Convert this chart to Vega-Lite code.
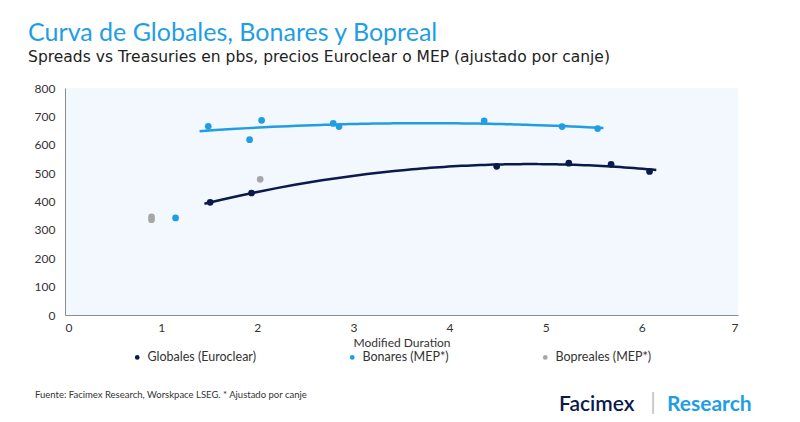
{
  "$schema": "https://vega.github.io/schema/vega-lite/v6.json",
  "background": "white",
  "padding": {"left": 28, "top": 20, "right": 0, "bottom": 0},
  "config": {
    "font": "Lato",
    "view": {"stroke": null},
    "axis": {
      "labelFont": "Lato",
      "labelFontSize": 12,
      "labelColor": "#333333",
      "ticks": false,
      "grid": false,
      "domainColor": "#8c8c8c",
      "titleFont": "Lato",
      "titleFontWeight": "normal",
      "titleFontSize": 12,
      "titleColor": "#333333"
    },
    "legend": {
      "labelFont": "Lato",
      "labelFontSize": 12.5,
      "labelColor": "#333333"
    }
  },
  "title": {
    "text": "Curva de Globales, Bonares y Bopreal",
    "subtitle": "Spreads vs Treasuries en pbs, precios Euroclear o MEP (ajustado por canje)",
    "anchor": "start",
    "dx": -6,
    "font": "Lato",
    "fontSize": 25,
    "fontWeight": "normal",
    "color": "#1f9ee5",
    "subtitleFont": "DejaVu Sans",
    "subtitleFontSize": 15.5,
    "subtitleColor": "#222222",
    "subtitlePadding": 4,
    "offset": 17
  },
  "spacing": 42,
  "vconcat": [
    {
      "width": 673,
      "height": 227,
      "view": {"fill": "#f2f8fd", "stroke": null},
      "data": {
        "values": [
          {"series": "Globales (Euroclear)", "md": 1.51, "spread": 397},
          {"series": "Globales (Euroclear)", "md": 1.94, "spread": 430},
          {"series": "Globales (Euroclear)", "md": 4.49, "spread": 524},
          {"series": "Globales (Euroclear)", "md": 5.24, "spread": 535},
          {"series": "Globales (Euroclear)", "md": 5.68, "spread": 531},
          {"series": "Globales (Euroclear)", "md": 6.08, "spread": 506},
          {"series": "Bonares (MEP*)", "md": 1.15, "spread": 342},
          {"series": "Bonares (MEP*)", "md": 1.49, "spread": 665},
          {"series": "Bonares (MEP*)", "md": 1.92, "spread": 618},
          {"series": "Bonares (MEP*)", "md": 2.045, "spread": 686},
          {"series": "Bonares (MEP*)", "md": 2.79, "spread": 675},
          {"series": "Bonares (MEP*)", "md": 2.85, "spread": 664},
          {"series": "Bonares (MEP*)", "md": 4.36, "spread": 684},
          {"series": "Bonares (MEP*)", "md": 5.17, "spread": 664},
          {"series": "Bonares (MEP*)", "md": 5.54, "spread": 657},
          {"series": "Bopreales (MEP*)", "md": 0.9, "spread": 346},
          {"series": "Bopreales (MEP*)", "md": 0.9, "spread": 336},
          {"series": "Bopreales (MEP*)", "md": 2.03, "spread": 478}
        ]
      },
      "encoding": {
        "x": {
          "field": "md",
          "type": "quantitative",
          "scale": {"domain": [0, 7], "nice": false},
          "axis": {"title": "Modified Duration", "values": [0, 1, 2, 3, 4, 5, 6, 7], "labelPadding": 7, "titlePadding": 4}
        },
        "y": {
          "field": "spread",
          "type": "quantitative",
          "scale": {"domain": [0, 800], "nice": false},
          "axis": {"title": null, "values": [0, 100, 200, 300, 400, 500, 600, 700, 800], "labelPadding": 10}
        }
      },
      "layer": [
        {
          "transform": [
            {"filter": "datum.series === 'Globales (Euroclear)'"},
            {"regression": "spread", "on": "md", "method": "poly", "order": 2, "extent": [1.45, 6.15]}
          ],
          "mark": {"type": "line", "color": "#0b1a4b", "strokeWidth": 2.5}
        },
        {
          "transform": [
            {"filter": "datum.series === 'Bonares (MEP*)' && datum.md > 1.3"},
            {"regression": "spread", "on": "md", "method": "poly", "order": 2, "extent": [1.4, 5.6]}
          ],
          "mark": {"type": "line", "color": "#1f9ee5", "strokeWidth": 2.5}
        },
        {
          "mark": {"type": "circle", "size": 45, "opacity": 1},
          "encoding": {
            "color": {
              "field": "series",
              "type": "nominal",
              "scale": {
                "domain": ["Globales (Euroclear)", "Bonares (MEP*)", "Bopreales (MEP*)"],
                "range": ["#0b1a4b", "#1f9ee5", "#a6a6a6"]
              },
              "legend": {
                "title": null,
                "orient": "none",
                "legendX": 66,
                "legendY": 263,
                "direction": "horizontal",
                "symbolType": "circle",
                "symbolSize": 22,
                "columnPadding": 90
              }
            }
          }
        }
      ]
    },
    {
      "spacing": 10,
      "hconcat": [
        {
          "width": 484,
          "height": 1,
          "title": {"text": "Fuente: Facimex Research, Worskpace LSEG. * Ajustado por canje", "anchor": "start", "font": "Lato", "fontSize": 9.5, "fontWeight": "normal", "color": "#333333", "dx": -30, "dy": -15},
          "data": {"values": [{}]},
          "mark": {"type": "text", "text": ""},
          "encoding": {}
        },
        {
          "width": 81,
          "height": 1,
          "title": {"text": "Facimex", "anchor": "start", "font": "Lato", "fontSize": 21, "fontWeight": 600, "color": "#0b1a4b"},
          "data": {"values": [{}]},
          "mark": {"type": "text", "text": ""},
          "encoding": {}
        },
        {
          "width": 1,
          "height": 1,
          "title": {"text": "|", "anchor": "start", "font": "Lato", "fontSize": 24, "fontWeight": "normal", "color": "#c4c4c4"},
          "data": {"values": [{}]},
          "mark": {"type": "text", "text": ""},
          "encoding": {}
        },
        {
          "width": 85,
          "height": 1,
          "title": {"text": "Research", "anchor": "start", "font": "Lato", "fontSize": 21, "fontWeight": "bold", "color": "#1f9ee5"},
          "data": {"values": [{}]},
          "mark": {"type": "text", "text": ""},
          "encoding": {}
        }
      ]
    }
  ]
}
